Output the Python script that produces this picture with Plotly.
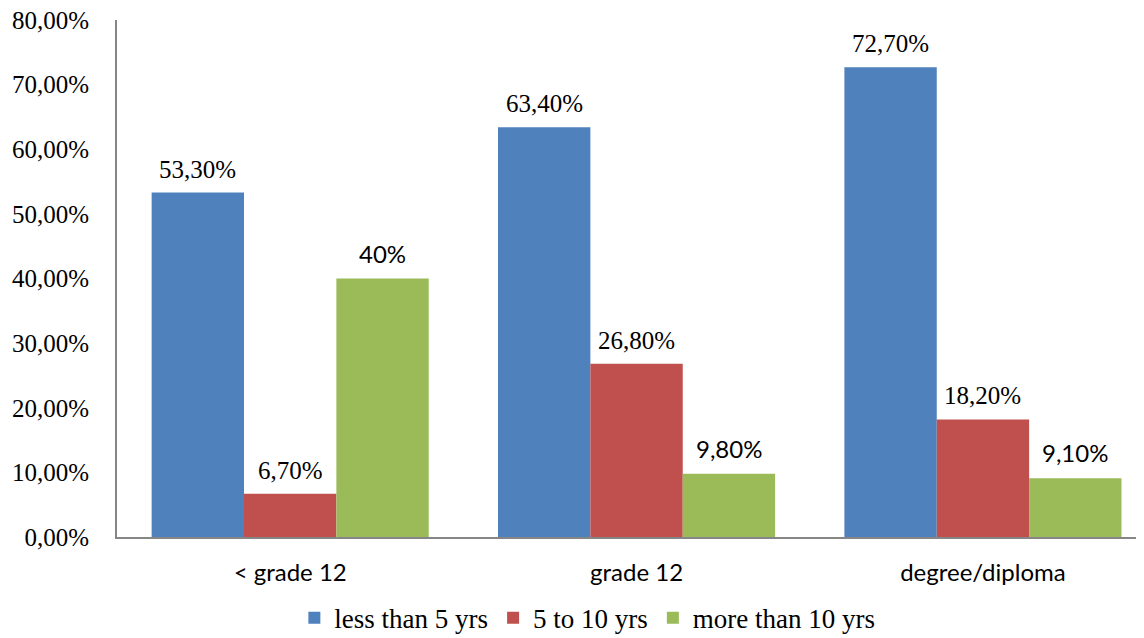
import plotly.graph_objects as go

categories = ["< grade 12", "grade 12", "degree/diploma"]
series_names = ["less than 5 yrs", "5 to 10 yrs", "more than 10 yrs"]
less_than_5 = [53.3, 63.4, 72.7]
five_to_10 = [6.7, 26.8, 18.2]
more_than_10 = [40.0, 9.8, 9.1]
labels_less_than_5 = ["53,30%", "63,40%", "72,70%"]
labels_five_to_10 = ["6,70%", "26,80%", "18,20%"]
labels_more_than_10 = ["40%", "9,80%", "9,10%"]
y_ticks = [0, 10, 20, 30, 40, 50, 60, 70, 80]
y_tick_labels = ["0,00%", "10,00%", "20,00%", "30,00%", "40,00%", "50,00%", "60,00%", "70,00%", "80,00%"]

colors = ["#4F81BD", "#C0504D", "#9BBB59"]
serif = "'Liberation Serif', 'Times New Roman', Times, serif"
sans = "Lato, 'Open Sans', sans-serif"
bargap = 0.2

series = [less_than_5, five_to_10, more_than_10]
labels = [labels_less_than_5, labels_five_to_10, labels_more_than_10]
label_fonts = [dict(family=serif, size=25, color="black"),
               dict(family=serif, size=25, color="black"),
               dict(family=sans, size=24, color="black")]
label_shifts = [8, 8, 9]

xpos = list(range(len(categories)))
fig = go.Figure()
for name, vals, col in zip(series_names, series, colors):
    fig.add_trace(go.Bar(x=xpos, y=vals, name=name, marker=dict(color=col, line=dict(width=0))))

n = len(series)
bw = (1 - bargap) / n
for i, (vals, labs, fnt, ys) in enumerate(zip(series, labels, label_fonts, label_shifts)):
    for j, (v, t) in enumerate(zip(vals, labs)):
        fig.add_annotation(x=j + (i - (n - 1) / 2) * bw, y=v, text=t, showarrow=False,
                           yanchor="bottom", yshift=ys, font=fnt)

fig.update_layout(
    width=1136, height=630,
    margin=dict(l=109, r=0, t=12, b=101, autoexpand=False),
    paper_bgcolor="white", plot_bgcolor="white",
    barmode="group", bargap=bargap, bargroupgap=0,
    showlegend=True,
    legend=dict(orientation="h", x=0.458, xanchor="center", y=-0.157, yanchor="middle",
                font=dict(family=serif, size=27, color="black"), itemwidth=30),
)
fig.update_xaxes(range=[-0.5, 2.465], tickvals=xpos, ticktext=categories, automargin=False,
                 showline=True, linecolor="#868686", linewidth=2, showgrid=False,
                 ticks="", tickfont=dict(family=sans, size=24, color="black"),
                 ticklabelstandoff=13, zeroline=False)
fig.update_yaxes(range=[0, 80], tickvals=y_ticks, ticktext=y_tick_labels, automargin=False,
                 showline=True, linecolor="#868686", linewidth=2, showgrid=False,
                 ticks="", tickfont=dict(family=serif, size=25, color="black"),
                 ticklabelstandoff=21, ticklabeloverflow="allow", zeroline=False)

fig.write_html("out.html")
